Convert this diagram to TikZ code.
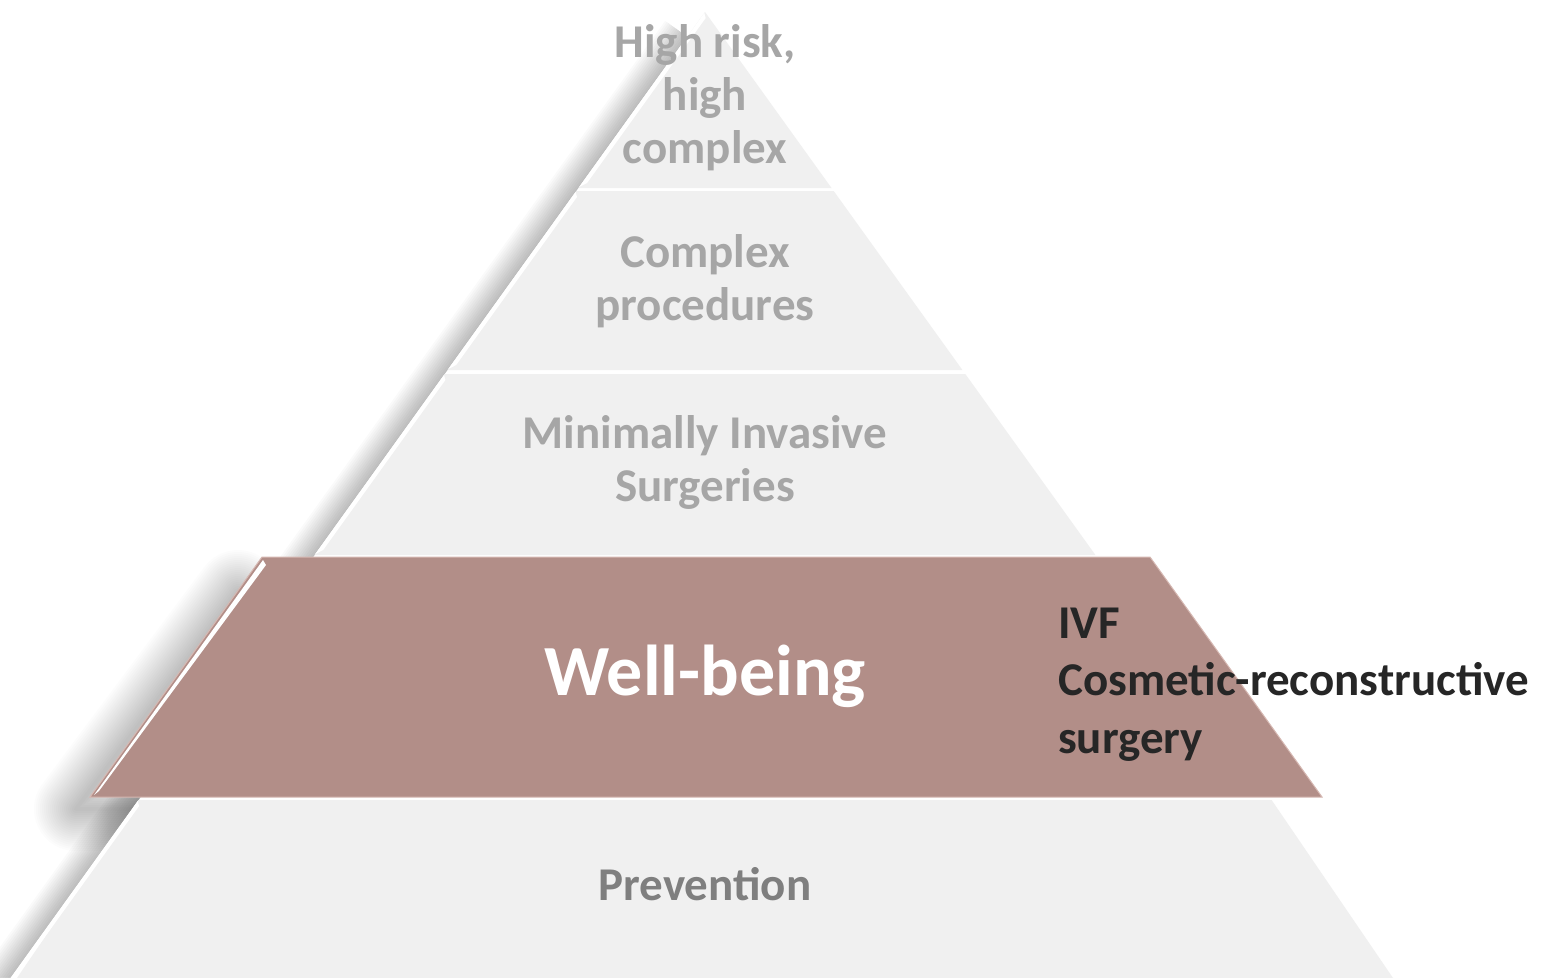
\documentclass[tikz,border=0pt]{standalone}
\usepackage{fontspec}
\setmainfont{Carlito}
\definecolor{seg}{HTML}{F0F0F0}
\definecolor{band}{HTML}{B28E88}
\definecolor{bandedge}{HTML}{D6B8B2}
\definecolor{txtgray}{HTML}{A6A6A6}
\definecolor{prevgray}{HTML}{7F7F7F}
\definecolor{darktxt}{HTML}{262626}
\newcommand\segbevel[2]{%
  \fill[white] ({705-0.719*(#1+1-12)},#1+1) -- ({705-0.719*(#2-1-12)},#2-1)
    -- ({710-0.719*(#2-5-12)},#2-5) -- ({710-0.719*(#1+6-12)},#1+6) -- cycle;}
\newcommand\edgeshadow[6]{% xshift, yshift(down), max width, opacity, cap, path
  \foreach \w in {4,8,...,#3} {
    \draw[black, draw opacity=#4, line width=\w pt, line cap=#5, line join=round, shift={(#1,#2)}] #6;
  }}
\begin{document}
\begin{tikzpicture}[x=1pt,y=-1pt,
  segment/.style={fill=seg, draw=none},
  bandshape/.style={fill=band, draw=bandedge, line width=1pt},
  lvl/.style={font=\fontsize{47}{53}\selectfont\bfseries, text=txtgray, align=center, inner sep=0pt, anchor=base},
]
\useasboundingbox (0,0) rectangle (1552,977);
\fill[white] (0,0) rectangle (1552,977);
\begin{scope}
\clip (0,0) rectangle (705,977);
% soft shadows along the left edges
\edgeshadow{-9}{3}{76}{0.019}{butt}{(705,40) -- (-6,1030)}
\edgeshadow{-14}{12}{84}{0.011}{round}{(252,580) -- (90,797) -- (300,797)}
\end{scope}
\begin{scope}
\clip (0,0) rectangle (1552,977);
% clear shadows inside the pyramid outline
\fill[white] (705,12) -- (1415,1000) -- (-5,1000) -- cycle;
% top segment
\path[segment] (705,12) -- (831.5,188) -- (578.5,188) -- cycle;
\segbevel{12}{188}
% second segment
\path[segment] (576.3,191) -- (833.7,191) -- (962.4,370) -- (447.6,370) -- cycle;
\segbevel{191}{370}
% third segment
\path[segment] (444.7,374) -- (965.3,374) -- (1095.4,555) -- (314.6,555) -- cycle;
\segbevel{374}{555}
% bottom segment
\path[segment] (138.4,800) -- (1271.6,800) -- (1408,1000) -- (2,1000) -- cycle;
\segbevel{800}{1000}
% highlighted band
\path[bandshape] (262,557) -- (1150,557) -- (1322,797) -- (90,797) -- cycle;
\fill[white] (263,560) -- (94,795) -- (99,791) -- (266,565) -- cycle;
\end{scope}
% texts
\node[lvl] (t1) at (705,163) {High risk,\\high\\complex};
\node[lvl] (t2) at (705,320) {Complex\\procedures};
\node[lvl] (t3) at (705,501) {Minimally Invasive\\Surgeries};
\node[lvl, text=white, font=\fontsize{72}{80}\selectfont\bfseries] (t4) at (705,695) {Well-being};
\node[lvl, text=darktxt, align=left, anchor=base west, font=\fontsize{47}{57.5}\selectfont\bfseries] (t5) at (1058,753) {IVF\\Cosmetic-reconstructive\\surgery};
\node[lvl, text=prevgray] (t6) at (705,900) {Prevention};
\end{tikzpicture}
\end{document}
